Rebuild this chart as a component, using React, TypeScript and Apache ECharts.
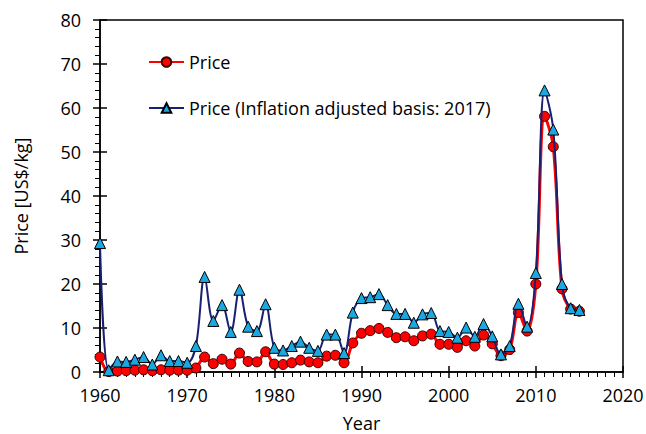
import React, { useEffect, useRef } from "react";
import * as echarts from "echarts";

const years: number[] = [];
for (let y = 1960; y <= 2015; y++) years.push(y);

const price = [
  3.4, 0.1, 0.2, 0.3, 0.4, 0.5, 0.3, 0.5, 0.4, 0.4,
  0.4, 0.9, 3.4, 1.9, 2.9, 1.8, 4.3, 2.4, 2.3, 4.6,
  1.8, 1.7, 2.1, 2.7, 2.3, 2.1, 3.6, 3.8, 2.1, 6.6,
  8.8, 9.4, 9.9, 9.0, 7.8, 8.0, 7.1, 8.2, 8.6, 6.3,
  6.3, 5.6, 7.1, 5.9, 8.4, 6.4, 3.7, 5.1, 13.5, 9.3,
  20.0, 58.1, 51.2, 18.9, 14.3, 13.8,
];

const priceAdjusted = [
  29.3, 0.4, 2.4, 2.3, 2.8, 3.4, 1.7, 3.8, 2.5, 2.5,
  2.1, 5.9, 21.6, 11.6, 15.2, 9.1, 18.7, 10.3, 9.3, 15.4,
  5.5, 4.9, 5.9, 6.9, 5.5, 4.8, 8.5, 8.5, 4.3, 13.5,
  16.8, 17.0, 17.7, 15.2, 13.2, 13.2, 11.2, 13.1, 13.4, 9.3,
  9.1, 7.8, 10.1, 8.0, 10.9, 8.1, 4.0, 5.9, 15.5, 10.3,
  22.5, 64.0, 55.1, 20.0, 14.5, 14.1,
];

const seriesNames = ["Price", "Price (Inflation adjusted basis: 2017)"];

const FONT = "Open Sans";
const FS = 18;

export default function App() {
  const ref = useRef<HTMLDivElement>(null);
  useEffect(() => {
    if (!ref.current) return;
    const chart = echarts.init(ref.current, undefined, { renderer: "svg" });
    const axisLine = { show: true, lineStyle: { color: "#000", width: 1.5 } };
    chart.setOption({
      animation: false,
      backgroundColor: "#fff",
      textStyle: { fontFamily: FONT },
      grid: {
        left: 100,
        right: 23,
        top: 20,
        bottom: 62,
        outerBoundsMode: "none",
        containLabel: false,
        show: true,
        borderColor: "#000",
        borderWidth: 1.5,
        backgroundColor: "transparent",
      },
      legend: {
        orient: "vertical",
        left: 143,
        top: 48,
        itemWidth: 35,
        itemHeight: 12,
        itemGap: 28,
        textStyle: { fontFamily: FONT, fontSize: FS, color: "#000" },
        data: seriesNames,
      },
      xAxis: [
        {
          type: "value",
          min: 1960,
          max: 2020,
          interval: 10,
          name: "Year",
          nameLocation: "middle",
          nameGap: 42,
          nameTextStyle: { fontFamily: FONT, fontSize: FS, color: "#000" },
          axisLine,
          axisTick: { show: true, inside: false, length: 6, lineStyle: { color: "#000", width: 1.5 } },
          minorTick: { show: true, splitNumber: 10, length: 5, lineStyle: { color: "#000", width: 1 } },
          axisLabel: { fontFamily: FONT, fontSize: FS, color: "#000", margin: 14, formatter: (v: number) => String(v) },
          splitLine: { show: false },
        },
        {
          type: "value",
          position: "bottom",
          min: 1960,
          max: 2020,
          interval: 10,
          axisLine: { show: false },
          axisTick: { show: true, inside: true, length: 6, lineStyle: { color: "#000", width: 1.5 } },
          axisLabel: { show: false },
          splitLine: { show: false },
        },
      ],
      yAxis: [
        {
          type: "value",
          min: 0,
          max: 80,
          interval: 10,
          name: "Price [US$/kg]",
          nameLocation: "middle",
          nameGap: 70,
          nameTextStyle: { fontFamily: FONT, fontSize: FS, color: "#000" },
          axisLine,
          axisTick: { show: true, inside: false, length: 7, lineStyle: { color: "#000", width: 1.5 } },
          minorTick: { show: true, splitNumber: 5, length: 5, lineStyle: { color: "#000", width: 1 } },
          axisLabel: { fontFamily: FONT, fontSize: FS, color: "#000", margin: 19 },
          splitLine: { show: false },
        },
        {
          type: "value",
          position: "left",
          min: 0,
          max: 80,
          interval: 10,
          axisLine: { show: false },
          axisTick: { show: true, inside: true, length: 7, lineStyle: { color: "#000", width: 1.5 } },
          axisLabel: { show: false },
          splitLine: { show: false },
        },
      ],
      series: [
        {
          name: seriesNames[0],
          type: "line",
          data: years.map((y, i) => [y, price[i]]),
          smooth: 0.35,
          symbol: "circle",
          symbolSize: 10,
          lineStyle: { color: "#FF0000", width: 3 },
          itemStyle: { color: "#FF0000", borderColor: "#3a0000", borderWidth: 1 },
          z: 2,
        },
        {
          name: seriesNames[1],
          type: "line",
          data: years.map((y, i) => [y, priceAdjusted[i]]),
          smooth: 0.35,
          symbol: "triangle",
          symbolSize: 11,
          lineStyle: { color: "#1a2070", width: 2 },
          itemStyle: { color: "#1BA8E0", borderColor: "#000", borderWidth: 1 },
          z: 3,
        },
      ],
    });
    return () => chart.dispose();
  }, []);
  return (
    <div
      ref={ref}
      style={{ position: "fixed", left: 0, top: 0, width: 646, height: 434 }}
    />
  );
}
